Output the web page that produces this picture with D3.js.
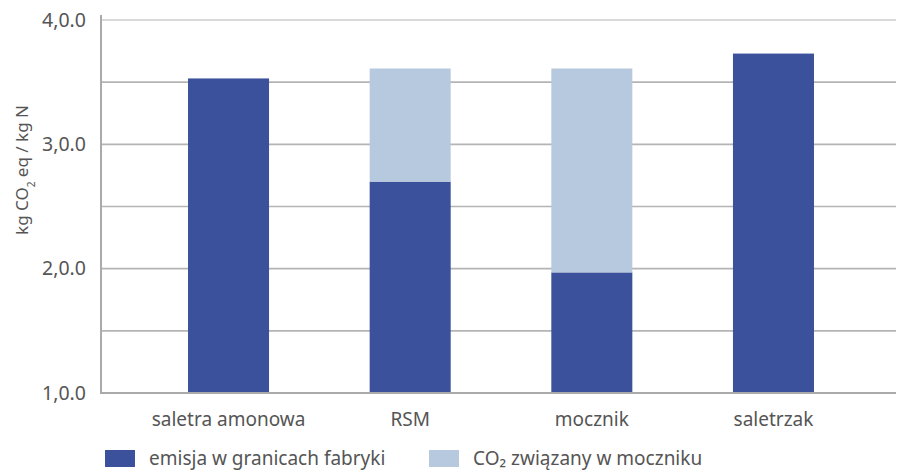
<!DOCTYPE html>
<html>
<head>
<meta charset="utf-8">
<script src="https://cdn.jsdelivr.net/npm/d3@7"></script>
<style>
  body { margin: 0; background: #fff; }
  svg { display: block; font-family: "Noto Sans", sans-serif; }
</style>
</head>
<body>
<div id="chart"></div>
<script>
// data
var categories = ["saletra amonowa", "RSM", "mocznik", "saletrzak"];
var emisja = [3.53, 2.70, 1.97, 3.73];   // emisja w granicach fabryki
var zwiazany = [0, 0.91, 1.64, 0];       // CO2 związany w moczniku
var yTicks = [1, 2, 3, 4];
var yTickLabels = ["1,0.0", "2,0.0", "3,0.0", "4,0.0"];
var seriesNames = ["emisja w granicach fabryki", "CO₂ związany w moczniku"];

var width = 897, height = 470;
var colors = ["#3b519b", "#b7c9df"];

var svg = d3.select("#chart").append("svg")
  .attr("width", width)
  .attr("height", height);

var x = d3.scaleBand()
  .domain(categories)
  .range([137.7, 864.3])
  .paddingInner(0.554)
  .paddingOuter(0.277);

var y = d3.scaleLinear()
  .domain([1, 4])
  .range([393, 20]);

// gridlines every 0.5
var grid = d3.range(1.5, 4.01, 0.5);
svg.append("g")
  .selectAll("line")
  .data(grid)
  .enter()
  .append("line")
  .attr("x1", 101)
  .attr("x2", 896)
  .attr("y1", function(d) { return y(d); })
  .attr("y2", function(d) { return y(d); })
  .attr("stroke", function(d) { return d === 4 ? "#cccccc" : "#b4b4b4"; })
  .attr("stroke-width", 1.6);

// stacked bars
var rows = categories.map(function(c, i) {
  return { cat: c, emisja: emisja[i], zwiazany: zwiazany[i] };
});
var stack = d3.stack().keys(["emisja", "zwiazany"]);
var series = stack(rows);

svg.append("g")
  .selectAll("g")
  .data(series)
  .enter()
  .append("g")
  .attr("fill", function(d, i) { return colors[i]; })
  .selectAll("rect")
  .data(function(d) { return d; })
  .enter()
  .append("rect")
  .attr("x", function(d) { return x(d.data.cat); })
  .attr("width", x.bandwidth())
  .attr("y", function(d) { return y(d[1]); })
  .attr("height", function(d) { return Math.max(0, y(Math.max(d[0], 1)) - y(d[1])); });

// axes frame
svg.append("line")
  .attr("x1", 101).attr("x2", 101)
  .attr("y1", 15).attr("y2", 393)
  .attr("stroke", "#aaaaaa").attr("stroke-width", 2);
svg.append("line")
  .attr("x1", 100).attr("x2", 896)
  .attr("y1", 393).attr("y2", 393)
  .attr("stroke", "#aaaaaa").attr("stroke-width", 2);

// y axis labels
var yAxis = d3.axisLeft(y)
  .tickValues(yTicks)
  .tickFormat(function(d, i) { return yTickLabels[i]; })
  .tickSize(0)
  .tickPadding(15);
var ya = svg.append("g")
  .attr("transform", "translate(101,0)")
  .call(yAxis);
ya.select(".domain").remove();
ya.selectAll("text")
  .attr("fill", "#555")
  .style("font-size", "19.5px")
  .style("font-family", "'Noto Sans', sans-serif");

// x axis labels
var xAxis = d3.axisBottom(x).tickSize(0).tickPadding(20);
var xa = svg.append("g")
  .attr("transform", "translate(0,393)")
  .call(xAxis);
xa.select(".domain").remove();
xa.selectAll("text")
  .attr("fill", "#555")
  .style("font-size", "19px")
  .style("font-family", "'Noto Sans', sans-serif");

// y axis title
var yt = svg.append("text")
  .attr("transform", "translate(28,170) rotate(-90)")
  .attr("text-anchor", "middle")
  .attr("fill", "#555")
  .style("font-size", "17px");
yt.append("tspan").text("kg CO");
yt.append("tspan").attr("baseline-shift", "sub").style("font-size", "10px").text("2");
yt.append("tspan").text(" eq / kg N");

// legend
var legendX = [105, 429];
var lg = svg.append("g")
  .selectAll("g")
  .data(seriesNames)
  .enter()
  .append("g")
  .attr("transform", function(d, i) { return "translate(" + legendX[i] + ",450)"; });
lg.append("rect")
  .attr("width", 30).attr("height", 17)
  .attr("fill", function(d, i) { return colors[i]; });
lg.append("text")
  .attr("x", 44).attr("y", 14.5)
  .attr("fill", "#555")
  .style("font-size", "19px")
  .text(function(d) { return d; });
</script>
</body>
</html>
